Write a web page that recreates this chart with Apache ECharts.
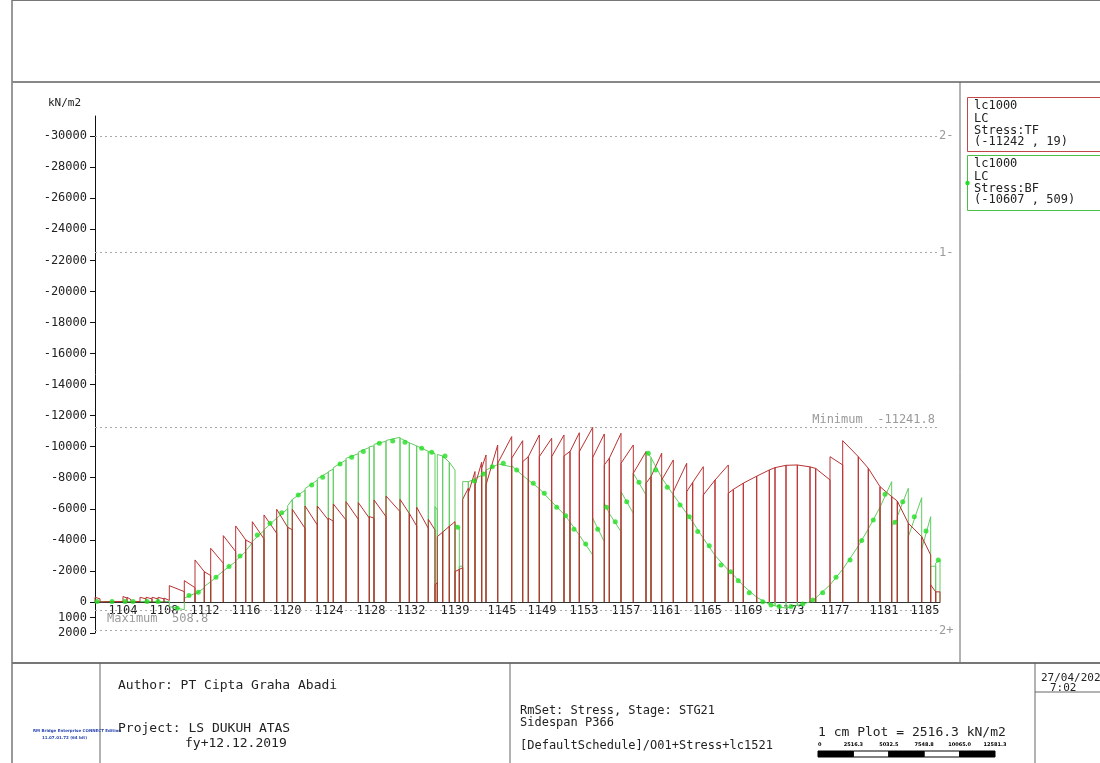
<!DOCTYPE html>
<html>
<head>
<meta charset="utf-8">
<script src="https://cdn.jsdelivr.net/npm/echarts@6/dist/echarts.min.js"></script>
<style>
html,body{margin:0;padding:0;background:#fff;}
#c{width:1100px;height:763px;}
</style>
</head>
<body>
<div id="c"></div>
<script>
// ---- data (stations in m along the span, stresses in kN/m2) ----
const nodeStation = [0,0.5,1.7,2.8,3.2,3.6,4.5,5.1,5.7,6.3,6.9,7.43,8.93,10.0,10.93,11.57,12.83,14.07,15.07,15.73,16.9,18.17,19.27,19.73,21.0,22.23,23.33,23.83,25.1,26.33,27.43,27.9,29.1,30.5,31.43,32.17,33.33,34.0,34.23,34.77,35.43,36.0,36.43,36.77,37.33,38.0,38.67,39.1,40.27,41.67,42.77,43.33,44.43,45.67,46.9,47.5,48.43,49.77,50.93,51.43,52.6,53.83,55.1,55.6,56.67,57.83,59.17,59.77,60.83,62.0,63.33,63.83,64.83,66.17,67.43,68.0,69.1,70.23,71.5,72.07,73.5,74.77,76.33,77.33,78.5,79.67,80.23,81.33,82.67,83.57,84.07,84.5];

// Top fibre (TF) stress at element start / end
const tfStart = [-300,-40,-40,-350,-300,-40,-300,-300,-300,-300,-250,-1050,-1372,-2705,-1950,-3458,-4270,-4894,-4000,-5171,-5603,-5968,-4809,-5968,-6182,-6182,-5400,-6311,-6460,-6400,-5500,-6569,-6826,-6611,-5700,-6098,-5324,-1095,-4206,-4500,-4870,-1950,-2100,-6614,-7000,-7500,-8610,-7535,-8930,-9254,-9035,-9357,-9357,-9357,-9400,-9680,-9680,-9300,-8823,-9254,-8930,-8288,-7644,-8073,-7857,-7100,-7100,-7700,-6890,-7850,-7000,-7250,-7650,-8100,-8500,-8650,-8800,-8823,-8700,-8600,-9357,-10390,-9357,-8610,-7426,-6783,-6500,-5070,-4206,-1100,-650];
const tfEnd   = [-200,-30,-30,-250,-150,-30,-200,-200,-200,-200,-100,-663,-921,-1951,-1700,-2492,-3240,-4000,-3750,-4057,-4421,-4809,-4650,-4745,-4959,-5281,-5200,-5281,-5324,-5400,-5400,-5495,-5818,-5700,-4894,-4744,-4637,-1243,-4500,-4870,-5171,-2100,-2200,-7322,-8400,-9000,-9467,-10111,-10650,-10388,-9357,-10755,-10540,-10755,-9700,-10900,-11242,-10819,-9254,-10862,-10111,-9680,-8073,-9575,-9145,-8930,-7700,-8713,-7850,-8823,-7250,-7650,-8100,-8500,-8650,-8800,-8823,-8700,-8600,-7860,-8823,-9357,-8610,-7426,-6783,-6500,-5070,-4206,-3027,-650,-650];

// Bottom fibre (BF) stress at element start / end
const bfStart = [-30,-30,-30,-30,-30,-30,-30,-30,-30,-30,-30,300,-250,-500,-1000,-1300,-2000,-2650,-3300,-3900,-4650,-5400,-6200,-6600,-7300,-7950,-8400,-8650,-9250,-9650,-10000,-10150,-10400,-10550,-10250,-10050,-9700,-6137,-9500,-9400,-9000,-5000,-2300,-7750,-7750,-7950,-8200,-8500,-8900,-8780,-8150,-7850,-7300,-6450,-5650,-5150,-4300,-5390,-6356,-5700,-7100,-8288,-9680,-9300,-8000,-6900,-5700,-5150,-4100,-3000,-2050,-1750,-1050,-300,150,250,400,220,0,-250,-1100,-2100,-3600,-4700,-6100,-4900,-5500,-4200,-3400,-2300,-2500];
const bfEnd   = [-30,-30,-30,-30,-30,-30,-30,-30,-30,-30,-30,500,-550,-900,-1300,-2000,-2600,-3250,-3800,-4600,-5400,-6000,-6600,-7200,-7850,-8350,-8550,-9150,-9550,-9950,-10050,-10350,-10607,-10250,-10050,-9700,-9550,-5925,-9400,-9000,-8500,-4700,-2300,-7750,-7900,-8150,-8400,-8850,-8700,-8150,-7850,-7300,-6450,-5650,-5150,-4300,-3027,-3883,-5700,-4530,-5710,-6890,-9300,-8000,-6900,-5700,-5150,-4100,-3000,-2050,-1750,-1050,-300,150,250,400,220,0,-250,-1100,-2100,-3600,-4700,-6100,-7750,-5300,-7320,-6718,-5495,-2300,-2705];

// BF result markers
const bfDotStation = [0.2,1.7,3.0,3.8,5.2,6.3,8.23,9.4,10.33,12.1,13.4,14.5,16.23,17.5,18.67,20.33,21.67,22.77,24.5,25.67,26.83,28.43,29.77,31.0,32.67,33.67,35.0,36.27,37.93,38.83,39.73,40.83,42.17,43.83,44.93,46.17,47.07,47.9,49.07,50.27,51.17,52.03,53.17,54.4,55.33,56.07,57.23,58.5,59.43,60.27,61.43,62.6,63.57,64.33,65.43,66.77,67.6,68.43,69.6,70.77,71.77,72.77,74.1,75.5,76.67,77.83,79.0,80.0,80.77,81.93,83.1,84.33];
const bfDotValue   = [-30,-30,-30,-30,-30,-30,408,-408,-622,-1589,-2276,-2963,-4315,-5066,-5753,-6891,-7536,-8030,-8888,-9318,-9683,-10220,-10370,-10284,-9897,-9640,-9404,-4809,-7793,-8244,-8716,-8931,-8500,-7644,-7000,-6098,-5560,-4680,-3735,-4680,-6098,-5171,-6460,-7710,-9575,-8500,-7390,-6247,-5495,-4530,-3626,-2383,-1951,-1372,-600,-20,193,300,300,129,-129,-600,-1590,-2705,-3950,-5281,-6934,-5130,-6460,-5495,-4572,-2705];

// element number labels along the x axis
const elemLabelStation = [2.8,6.9,11.0,15.1,19.2,23.4,27.6,31.6,36.0,40.7,44.7,48.9,53.1,57.1,61.25,65.3,69.5,74.0,78.9,83.0];
const elemLabel = ['1104','1108','1112','1116','1120','1124','1128','1132','1139','1145','1149','1153','1157','1161','1165','1169','1173','1177','1181','1185'];

// stress axis tick labels
const yTicks = [-30000,-28000,-26000,-24000,-22000,-20000,-18000,-16000,-14000,-12000,-10000,-8000,-6000,-4000,-2000,0,1000,2000];

// reference lines: [value, label, label position]
const refLineValue = [-30000, -22500, -11241.8, 508.8, 1850];
const refLineLabel = ['2-', '1-', 'Minimum  -11241.8', 'Maximum  508.8', '2+'];
const refLinePos   = ['end', 'end', 'insideEndTop', 'insideStartBottom', 'end'];
const refLineEnd = 84.2;

// ---- build ----
function saw(st, s, e) {
  const pts = [];
  for (let i = 0; i < s.length; i++) {
    pts.push([st[i], 0], [st[i], s[i]], [st[i + 1], e[i]], [st[i + 1], 0]);
  }
  return pts;
}
const tfPts = saw(nodeStation, tfStart, tfEnd);
const bfPts = saw(nodeStation, bfStart, bfEnd);
const dotPts = bfDotStation.map((x, i) => [x, bfDotValue[i]]);

const mono = 'DejaVu Sans Mono';
const markLineData = refLineValue.map((v, i) => [
  { coord: [0, v], label: { show: true, position: refLinePos[i], formatter: refLineLabel[i], color: '#9a9a9a', fontFamily: mono, fontSize: 12,
      distance: refLinePos[i] === 'insideStartBottom' ? [12, 3] : 2 } },
  { coord: [refLineEnd, v] }
]);

const chart = echarts.init(document.getElementById('c'), null, { renderer: 'canvas' });

function T(x, y, text, opt) {
  return Object.assign({ type: 'text', x: x, y: y, style: Object.assign({ text: text, fill: '#222', font: '13px "DejaVu Sans Mono"', textVerticalAlign: 'middle' }, opt || {}) });
}
function L(x1, y1, x2, y2, color, w) {
  return { type: 'line', shape: { x1: x1, y1: y1, x2: x2, y2: y2 }, style: { stroke: color || '#666', lineWidth: w || 1 } };
}

const graphics = [
  // frame
  L(12, 0.5, 1100, 0.5, '#777', 1),
  L(12, 0, 12, 763, '#777', 1.5),
  L(12, 82, 1100, 82, '#888', 2),
  L(960, 82, 960, 663, '#666', 1),
  L(12, 663, 1100, 663, '#777', 2),
  L(100, 663, 100, 763, '#666', 1),
  L(510, 663, 510, 763, '#666', 1),
  L(1035, 663, 1035, 763, '#666', 1),
  L(1035, 692, 1100, 692, '#666', 1),
  // axis unit
  T(48, 103, 'kN/m2', { font: '11px "DejaVu Sans Mono"' }),
  // legend boxes
  { type: 'rect', shape: { x: 967.5, y: 97.5, width: 140, height: 54 }, style: { fill: 'none', stroke: '#c04848', lineWidth: 1 } },
  T(974, 106, 'lc1000', { font: '12px "DejaVu Sans Mono"' }),
  T(974, 119, 'LC', { font: '12px "DejaVu Sans Mono"' }),
  T(974, 131, 'Stress:TF', { font: '12px "DejaVu Sans Mono"' }),
  T(974, 142, '(-11242 , 19)', { font: '12px "DejaVu Sans Mono"' }),
  { type: 'rect', shape: { x: 967.5, y: 155.5, width: 140, height: 55 }, style: { fill: 'none', stroke: '#48c048', lineWidth: 1 } },
  { type: 'circle', shape: { cx: 967.5, cy: 183, r: 2.2 }, style: { fill: '#22dd22' } },
  T(974, 164, 'lc1000', { font: '12px "DejaVu Sans Mono"' }),
  T(974, 177, 'LC', { font: '12px "DejaVu Sans Mono"' }),
  T(974, 189, 'Stress:BF', { font: '12px "DejaVu Sans Mono"' }),
  T(974, 200, '(-10607 , 509)', { font: '12px "DejaVu Sans Mono"' }),
  // title block
  T(33, 731, 'RM Bridge Enterprise CONNECT Edition', { fill: '#2a47b0', font: 'bold 4px "DejaVu Sans"' }),
  T(42, 738, '11.07.01.72 (64 bit)', { fill: '#2a47b0', font: 'bold 4px "DejaVu Sans"' }),
  T(118, 686, 'Author: PT Cipta Graha Abadi'),
  T(118, 729, 'Project: LS DUKUH ATAS'),
  T(185, 744, 'fy+12.12.2019'),
  T(520, 711, 'RmSet: Stress, Stage: STG21', { font: '12px "DejaVu Sans Mono"' }),
  T(520, 723, 'Sidespan P366', { font: '12px "DejaVu Sans Mono"' }),
  T(520, 746, '[DefaultSchedule]/O01+Stress+lc1521', { font: '12px "DejaVu Sans Mono"' }),
  T(818, 733, '1 cm Plot = 2516.3 kN/m2', { font: '13px "DejaVu Sans Mono"' }),
  T(1041, 678, '27/04/202', { font: '11px "DejaVu Sans Mono"' }),
  T(1050, 688, '7:02', { font: '11px "DejaVu Sans Mono"' })
];
// scale bar
const barLabels = ['0', '2516.3', '5032.5', '7548.8', '10065.0', '12581.3'];
for (let i = 0; i < 5; i++) {
  graphics.push({ type: 'rect', shape: { x: 818 + i * 35.4, y: 751, width: 35.4, height: 6 }, style: { fill: i % 2 === 0 ? '#000' : '#fff', stroke: '#000', lineWidth: 1 } });
}
barLabels.forEach((t, i) => {
  graphics.push(T(818 + i * 35.4, 745, t, { font: 'bold 5px "DejaVu Sans"', textAlign: i === 0 ? 'left' : 'center', fill: '#000' }));
});

chart.setOption({
  animation: false,
  backgroundColor: '#fff',
  grid: { left: 95, right: 160, top: 116, bottom: 130, containLabel: false },
  xAxis: {
    type: 'value', min: 0, max: 84.5,
    axisLine: { show: true, onZero: true, lineStyle: { color: '#333', width: 1 } },
    axisTick: { show: false },
    splitLine: { show: false },
    axisLabel: {
      customValues: elemLabelStation,
      formatter: function (v) {
        let best = 0, d = 1e9;
        elemLabelStation.forEach((s, i) => { if (Math.abs(s - v) < d) { d = Math.abs(s - v); best = i; } });
        return elemLabel[best];
      },
      color: '#222', fontFamily: mono, fontSize: 12, margin: -28
    }
  },
  yAxis: {
    type: 'value', inverse: true, min: -31300, max: 2000,
    axisLine: { show: true, onZero: false, lineStyle: { color: '#111', width: 1 } },
    axisTick: { show: true, customValues: yTicks, length: 5, inside: false, lineStyle: { color: '#111' } },
    axisLabel: { customValues: yTicks, formatter: v => String(v), color: '#222', fontFamily: mono, fontSize: 12, margin: 8 },
    splitLine: { show: false }
  },
  graphic: graphics,
  series: [
    {
      name: 'BF', type: 'line', data: bfPts, showSymbol: false, symbol: 'none',
      lineStyle: { color: '#62cc62', width: 1 }, z: 2
    },
    {
      name: 'TF', type: 'line', data: tfPts, showSymbol: false, symbol: 'none',
      lineStyle: { color: '#b83232', width: 1 }, z: 3,
      markLine: {
        silent: true, symbol: 'none', animation: false,
        lineStyle: { color: '#aaa', type: [2, 3], width: 1 },
        data: markLineData
      }
    },
    {
      name: 'BF points', type: 'scatter', data: dotPts, symbol: 'circle', symbolSize: 5,
      itemStyle: { color: '#22dd22' }, z: 4
    }
  ]
});
</script>
</body>
</html>
